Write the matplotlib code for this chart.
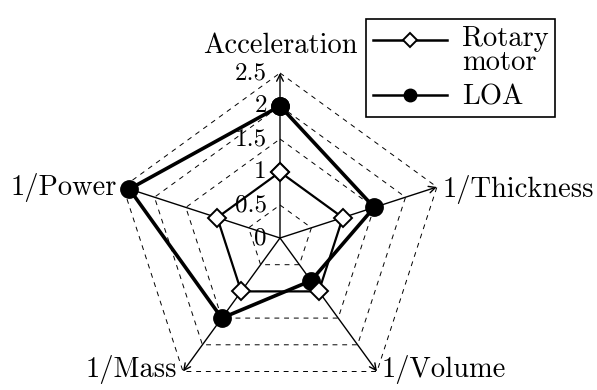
import numpy as np
import matplotlib
matplotlib.use('Agg')
import matplotlib.pyplot as plt
from matplotlib.legend_handler import HandlerLine2D

plt.rcParams['font.family'] = ['cmr10', 'DejaVu Serif']
plt.rcParams['axes.unicode_minus'] = False

# data
categories = ['Acceleration', '1/Thickness', '1/Volume', '1/Mass', '1/Power']
rotary = [1.0, 1.0, 1.0, 1.0, 1.0]
loa = [2.0, 1.5, 0.8, 1.5, 2.4]
ticks = [0, 0.5, 1, 1.5, 2, 2.5]
tick_labels = ['0', '0.5', '1', '1.5', '2', '2.5']
rmax = 2.5

# angles, clockwise from the top
ang = np.pi / 2 - 2 * np.pi * np.arange(len(categories)) / len(categories)


def to_xy(vals):
    v = np.asarray(vals, dtype=float)
    x = v * np.cos(ang)
    y = v * np.sin(ang)
    return np.append(x, x[0]), np.append(y, y[0])


class LegLine(HandlerLine2D):
    # legend handle with smaller markers, optionally raised to the first text line
    def __init__(self, ms, dy=0.0, **kw):
        super().__init__(**kw)
        self.ms = ms
        self.dy = dy

    def create_artists(self, legend, orig_handle, xdescent, ydescent,
                       width, height, fontsize, trans):
        arts = super().create_artists(legend, orig_handle, xdescent,
                                      ydescent - self.dy, width, height,
                                      fontsize, trans)
        for a in arts:
            a.set_linewidth(1.8)
            a.set_markersize(self.ms)
        return arts


fig = plt.figure(figsize=(5.97, 3.90), dpi=100)
ax = fig.add_axes([0, 0, 1, 1])
s = 66.0  # pixels per unit
ax.set_xlim(-280 / s, 317 / s)
ax.set_ylim(-152 / s, 238 / s)
ax.axis('off')

# dashed pentagon grid
for t in ticks[1:]:
    gx, gy = to_xy([t] * len(categories))
    ax.plot(gx, gy, color='black', lw=0.7, ls=(0, (5, 5)), zorder=1)

# axes with arrows
for a in ang:
    ax.annotate('', xy=(rmax * np.cos(a), rmax * np.sin(a)), xytext=(0, 0),
                arrowprops=dict(arrowstyle='->', lw=1.0, color='black',
                                shrinkA=0, shrinkB=0, mutation_scale=12),
                zorder=2)

# tick labels along the top axis
for t, lab in zip(ticks, tick_labels):
    ax.text(-0.2, t, lab, ha='right', va='center', fontsize=18, zorder=1.5)

# category labels
fs = 20.5
ax.text(0, 2.80, categories[0], ha='center', va='baseline', fontsize=fs)
ax.text(2.47, 0.73, categories[1], ha='left', va='center', fontsize=fs)
ax.text(1.545, -2.10, categories[2], ha='left', va='baseline', fontsize=fs)
ax.text(-1.56, -2.10, categories[3], ha='right', va='baseline', fontsize=fs)
ax.text(-2.47, 0.76, categories[4], ha='right', va='center', fontsize=fs)

# series
rx, ry = to_xy(rotary)
lx, ly = to_xy(loa)
l1, = ax.plot(rx, ry, color='black', lw=1.6, marker='D', ms=9.5,
              mfc='white', mec='black', mew=1.4, zorder=4,
              label='Rotary\nmotor')
l2, = ax.plot(lx, ly, color='black', lw=2.6, marker='o', ms=12.5,
              mfc='black', mec='black', zorder=3, label='LOA')

leg = ax.legend(loc='upper right', bbox_to_anchor=(0.930, 0.951),
                bbox_transform=fig.transFigure, fontsize=20.5,
                frameon=True, fancybox=False, edgecolor='black',
                framealpha=1, borderaxespad=0, handlelength=2.6,
                handletextpad=0.55, labelspacing=0.3, borderpad=0.22,
                handler_map={l1: LegLine(7.5, dy=15.0),
                             l2: LegLine(9.0)})
leg.get_frame().set_linewidth(1.2)
leg.get_texts()[0].set_linespacing(0.9)

fig.savefig('out.png', dpi=100)
